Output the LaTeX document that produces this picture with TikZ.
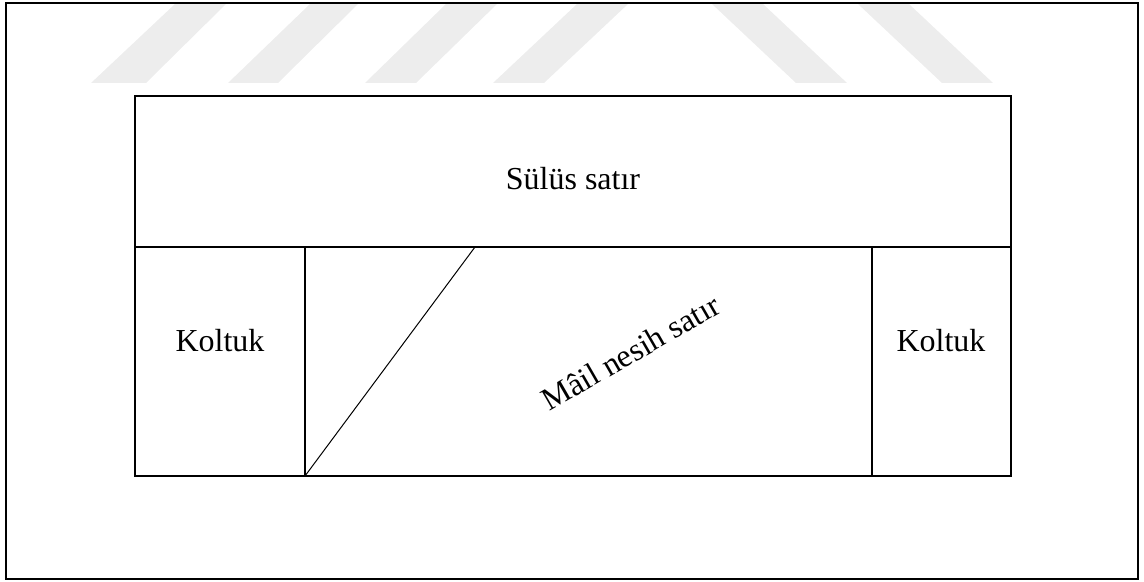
\documentclass[tikz,border=0pt]{standalone}
\usepackage{fontspec}
\setmainfont{Liberation Serif}
\begin{document}
\begin{tikzpicture}[x=0.75pt,y=-0.75pt,line width=1.5pt,every node/.style={font=\fontsize{24}{28}\selectfont,inner sep=0pt,anchor=base}]
\useasboundingbox (0,0) rectangle (1144,581);
% watermark
\begin{scope}[fill=black!7,draw=none]
\fill (91,83) -- (175,4) -- (226,4) -- (146,83) -- cycle;
\fill (228,83) -- (310,4) -- (358,4) -- (278,83) -- cycle;
\fill (365,83) -- (446,4) -- (497,4) -- (416,83) -- cycle;
\fill (493,83) -- (577,4) -- (628,4) -- (544,83) -- cycle;
\fill (712,4) -- (763,4) -- (847,83) -- (796,83) -- cycle;
\fill (858,4) -- (909,4) -- (993,83) -- (942,83) -- cycle;
\end{scope}
\coordinate (A) at (135,96);
\coordinate (B) at (1011,476);
\coordinate (P) at (135,247);
\coordinate (Q) at (1011,247);
\coordinate (K1) at (305,247);
\coordinate (K2) at (305,476);
\coordinate (L1) at (872,247);
\coordinate (L2) at (872,476);
\coordinate (D) at (475,247);
\draw (6,3) rectangle (1138,579);
\draw (A) rectangle (B);
\draw (P) -- (Q);
\draw (K1) -- (K2);
\draw (L1) -- (L2);
\draw[line width=0.75pt] (K2) -- (D);
\node (sulus) at (573,189) {Sülüs satır};
\node (koltuk1) at (220,351) {Koltuk};
\node (koltuk2) at (941,351) {Koltuk};
\node[rotate=30] (mail) at (636,362) {Mâil nesih satır};
\end{tikzpicture}
\end{document}
